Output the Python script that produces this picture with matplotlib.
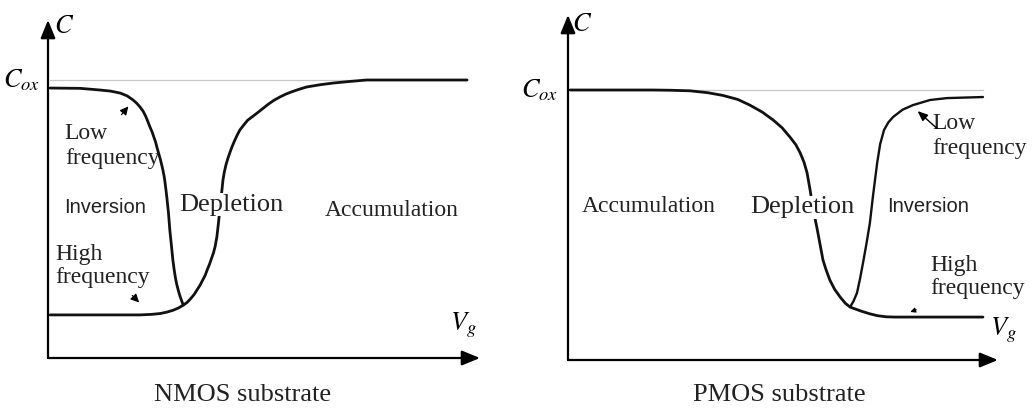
import matplotlib.pyplot as plt

plt.rcParams['font.family'] = 'Liberation Serif'
plt.rcParams['mathtext.fontset'] = 'stix'

# NMOS substrate: C/Cox against gate voltage (arbitrary units)
nmos_low_vg = [0.05, 0.74, 1.20, 1.45, 1.67, 1.83, 1.97, 2.05, 2.13, 2.20, 2.26, 2.31, 2.36,
               2.41, 2.45, 2.49, 2.52, 2.56, 2.60, 2.63, 2.66, 2.69, 2.71, 2.73, 2.75, 2.79,
               2.82, 2.86, 2.89, 2.92, 2.95, 2.98, 3.01, 3.04, 3.07, 3.10, 3.13]
nmos_low_c = [0.971, 0.970, 0.964, 0.960, 0.953, 0.943, 0.928, 0.917, 0.903, 0.888, 0.870,
              0.851, 0.831, 0.813, 0.795, 0.777, 0.759, 0.737, 0.715, 0.696, 0.676, 0.652,
              0.630, 0.605, 0.579, 0.520, 0.460, 0.400, 0.353, 0.318, 0.288, 0.265, 0.247,
              0.230, 0.216, 0.203, 0.191]
nmos_high_vg = [0.05, 1.20, 2.13, 2.40, 2.60, 2.75, 2.90, 3.02, 3.13, 3.22, 3.30, 3.38, 3.45,
                3.52, 3.58, 3.64, 3.68, 3.74, 3.78, 3.83, 3.87, 3.91, 3.94, 3.97, 4.00, 4.03,
                4.05, 4.08, 4.12, 4.16, 4.21, 4.26, 4.32, 4.38, 4.44, 4.53, 4.62, 4.73, 4.84,
                4.97, 5.10, 5.23, 5.37, 5.50, 5.65, 5.82, 5.99, 6.30, 6.60, 7.00, 7.38, 9.70]
nmos_high_c = [0.155, 0.155, 0.155, 0.157, 0.160, 0.165, 0.172, 0.180, 0.190, 0.200, 0.213,
               0.228, 0.245, 0.262, 0.280, 0.298, 0.315, 0.338, 0.356, 0.378, 0.402, 0.437,
               0.478, 0.522, 0.565, 0.610, 0.640, 0.668, 0.695, 0.716, 0.739, 0.760, 0.782,
               0.802, 0.820, 0.838, 0.855, 0.868, 0.881, 0.897, 0.913, 0.927, 0.939, 0.949,
               0.958, 0.967, 0.975, 0.983, 0.989, 0.995, 1.0, 1.0]

# PMOS substrate
pmos_acc_vg = [0.05, 1.98, 2.40, 2.84, 3.25, 3.60, 3.95, 4.23, 4.52, 4.77, 4.98, 5.16, 5.30,
               5.40, 5.49, 5.56, 5.63, 5.70, 5.79, 5.93, 6.00, 6.09, 6.20, 6.33, 6.45, 6.56,
               6.80, 7.02, 7.20, 7.40, 7.60, 9.65]
pmos_acc_c = [1.0, 1.0, 0.999, 0.997, 0.990, 0.980, 0.965, 0.944, 0.918, 0.889, 0.860, 0.826,
              0.797, 0.767, 0.732, 0.693, 0.630, 0.559, 0.489, 0.370, 0.335, 0.296, 0.262,
              0.233, 0.210, 0.196, 0.182, 0.171, 0.164, 0.160, 0.159, 0.159]
pmos_low_vg = [6.56, 6.64, 6.72, 6.79, 6.86, 6.94, 7.02, 7.09, 7.19, 7.26, 7.35, 7.45, 7.56,
               7.78, 8.02, 8.42, 8.81, 9.65]
pmos_low_c = [0.196, 0.218, 0.248, 0.300, 0.359, 0.430, 0.507, 0.604, 0.730, 0.800, 0.852,
              0.880, 0.900, 0.927, 0.944, 0.963, 0.970, 0.974]

line_kw = dict(color='#111111', lw=2.0, solid_joinstyle='round', solid_capstyle='round')
txt_kw = dict(fontsize=17, color='#222222')
head = '-|>,head_length=1.1,head_width=0.45'

fig = plt.figure(figsize=(10.33, 4.11), dpi=100)
ax1 = fig.add_axes([0.04647, 0.12895, 0.41820, 0.82238])
ax2 = fig.add_axes([0.54985, 0.12409, 0.41627, 0.83941])
ax1.set_xlim(0, 10)
ax1.set_ylim(0, 1.2158)
ax2.set_xlim(0, 10)
ax2.set_ylim(0, 1.2778)

for ax, axcol in ((ax1, '#6f6f6f'), (ax2, '#222222')):
    ax.axis('off')
    top = ax.get_ylim()[1]
    for tip in ((10, 0), (0, top)):
        ax.annotate('', xy=tip, xytext=(0, 0), annotation_clip=False,
                    arrowprops=dict(arrowstyle=head, color=axcol, lw=1.6,
                                    fc='black', ec='black', shrinkA=0, shrinkB=0))

# ---- NMOS ----
ax1.plot([0.05, 9.70], [1.0, 1.0], color='#c8c8c8', lw=0.9)
ax1.plot(nmos_low_vg, nmos_low_c, **line_kw)
ax1.plot(nmos_high_vg, nmos_high_c, **line_kw)
ax1.text(0.37, 1.19, '$C$', fontsize=19, ha='center', va='center')
ax1.text(-0.19, 1.0, '$C_{ox}$', fontsize=19, ha='right', va='center')
ax1.text(0.39, 0.763, 'Low\nfrequency', ha='left', va='center', linespacing=1.25, **txt_kw)
ax1.text(1.32, 0.543, 'Inversion', ha='center', va='center', family='Liberation Sans',
         fontsize=14.5, color='#222222')
ax1.text(4.24, 0.552, 'Depletion', ha='center', va='center', fontsize=19, color='#222222',
         bbox=dict(fc='white', ec='none', pad=0.5))
ax1.text(7.96, 0.532, 'Accumulation', ha='center', va='center', **txt_kw)
ax1.text(0.16, 0.331, 'High\nfrequency', ha='left', va='center', linespacing=1.15, **txt_kw)
ax1.text(9.61, 0.119, '$V_g$', fontsize=19, ha='center', va='center')
ax1.text(4.51, -0.133, 'NMOS substrate', ha='center', va='center', fontsize=19,
         color='#222222')
ax1.annotate('', xy=(1.86, 0.905), xytext=(1.70, 0.875),
             arrowprops=dict(arrowstyle='-|>,head_length=0.5,head_width=0.25',
                             color='black', lw=0.8, shrinkA=0, shrinkB=0))
ax1.annotate('', xy=(2.11, 0.200), xytext=(1.95, 0.225),
             arrowprops=dict(arrowstyle='-|>,head_length=0.5,head_width=0.25',
                             color='black', lw=0.8, shrinkA=0, shrinkB=0))

# ---- PMOS ----
ax2.plot([0.05, 9.65], [1.0, 1.0], color='#c8c8c8', lw=0.9)
ax2.plot(pmos_acc_vg, pmos_acc_c, **line_kw)
ax2.plot(pmos_low_vg, pmos_low_c, **dict(line_kw, lw=1.7))
ax2.text(0.33, 1.24, '$C$', fontsize=19, ha='center', va='center')
ax2.text(-0.23, 1.0, '$C_{ox}$', fontsize=19, ha='right', va='center')
ax2.text(1.88, 0.567, 'Accumulation', ha='center', va='center', **txt_kw)
ax2.text(5.44, 0.565, 'Depletion', ha='center', va='center', fontsize=19, color='#222222',
         bbox=dict(fc='white', ec='none', pad=0.5))
ax2.text(8.37, 0.570, 'Inversion', ha='center', va='center', family='Liberation Sans',
         fontsize=14.5, color='#222222')
ax2.text(8.47, 0.830, 'Low\nfrequency', ha='left', va='center', linespacing=1.25, **txt_kw)
ax2.text(8.42, 0.307, 'High\nfrequency', ha='left', va='center', linespacing=1.15, **txt_kw)
ax2.text(10.12, 0.111, '$V_g$', fontsize=19, ha='center', va='center')
ax2.text(4.91, -0.130, 'PMOS substrate', ha='center', va='center', fontsize=19,
         color='#222222')
ax2.annotate('', xy=(8.13, 0.922), xytext=(8.58, 0.858),
             arrowprops=dict(arrowstyle='-|>,head_length=0.6,head_width=0.25',
                             color='#777777', lw=1.0, fc='black', ec='black',
                             shrinkA=0, shrinkB=0))
ax2.annotate('', xy=(7.96, 0.178), xytext=(8.10, 0.186),
             arrowprops=dict(arrowstyle='-|>,head_length=0.3,head_width=0.15',
                             color='black', lw=0.8, shrinkA=0, shrinkB=0))

fig.savefig('out.png', dpi=100, facecolor='white')
